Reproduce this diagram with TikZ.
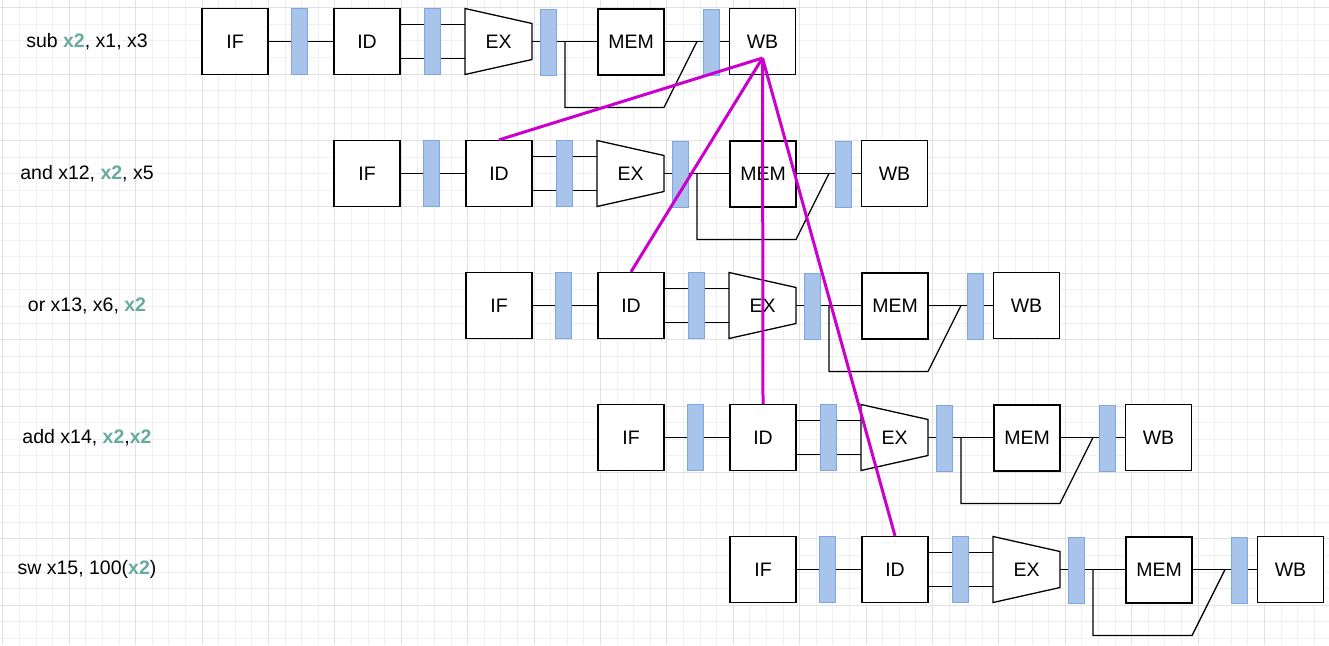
\documentclass[tikz,border=0pt]{standalone}
\usepackage{fontspec}
\setmainfont{Liberation Sans}
\definecolor{latchfill}{HTML}{A9C4EB}
\definecolor{latchline}{HTML}{7EA6E0}
\definecolor{regteal}{HTML}{67AB9F}
\definecolor{fwdpurple}{HTML}{CC00CC}
\definecolor{gridminor}{HTML}{F0F0F0}
\definecolor{gridmajor}{HTML}{E2E2E2}
\newcommand{\hazreg}{\textcolor{regteal}{\textbf{x2}}}
\tikzset{
  stage/.style={draw, line width=1.3pt, fill=white, minimum width=66, minimum height=66, inner sep=0pt},
  latch/.style={draw=latchline, line width=1pt, fill=latchfill, minimum width=16, minimum height=66, inner sep=0pt},
  wire/.style={line width=1.3pt},
  fwd/.style={fwdpurple, line width=3pt},
}
\begin{document}
\begin{tikzpicture}[x=1pt, y=-1pt, font=\fontsize{19.5}{23}\selectfont]
      \useasboundingbox (0,0) rectangle (1329,645);
      \fill[white] (0,0) rectangle (1329,645);
      % grid
      \foreach \k in {0,...,79}
        \draw[gridminor, line width=1pt] ({2.9+16.6*\k},0) -- ({2.9+16.6*\k},645);
      \foreach \k in {-1,...,38}
        \draw[gridminor, line width=1pt] (0,{7.6+16.6*\k}) -- (1329,{7.6+16.6*\k});
      \foreach \k in {0,...,19}
        \draw[gridmajor, line width=1pt] ({2.9+66.4*\k},0) -- ({2.9+66.4*\k},645);
      \foreach \k in {0,...,9}
        \draw[gridmajor, line width=1pt] (0,{7.6+66.4*\k}) -- (1329,{7.6+66.4*\k});
      % one pipeline per instruction
      \foreach \i/\txt in {0/{sub \hazreg, x1, x3}, 1/{and x12, \hazreg, x5},
          2/{or x13, x6, \hazreg}, 3/{add x14, \hazreg,\hazreg}, 4/{sw x15, 100(\hazreg)}} {
        \node (txt\i) at (87,{41.5+132*\i}) {\txt};
        \begin{scope}[shift={({132*\i},{132*\i})}]
          \node[stage] (if\i) at (235,41.5) {IF};
          \node[latch] (la\i) at (299,41.5) {};
          \node[stage] (id\i) at (367,41.5) {ID};
          \node[latch] (lb\i) at (432.5,41.5) {};
          \filldraw[wire, fill=white] (465,8.5) -- (532,23.5) -- (532,59.5) -- (465,74.5) -- cycle;
          \node[inner sep=0pt, minimum width=67, minimum height=66] (ex\i) at (498.5,41.5) {EX};
          \node[latch] (lc\i) at (548,42.5) {};
          \node[stage] (mem\i) at (631,42) {MEM};
          \node[latch] (ld\i) at (711.5,42) {};
          \node[stage] (wb\i) at (762.5,41.5) {WB};
          \coordinate (tap\i) at (565,41.5);
          \coordinate (join\i) at (697,41.5);
          \draw[wire] (if\i.east) -- (la\i.west);
          \draw[wire] (la\i.east) -- (id\i.west);
          \draw[wire] ([yshift=16.7pt]id\i.east) -- ([yshift=16.7pt]lb\i.west);
          \draw[wire] ([yshift=-16.7pt]id\i.east) -- ([yshift=-16.7pt]lb\i.west);
          \draw[wire] ([yshift=16.7pt]lb\i.east) -- ([yshift=16.7pt]ex\i.west);
          \draw[wire] ([yshift=-16.7pt]lb\i.east) -- ([yshift=-16.7pt]ex\i.west);
          \draw[wire] (ex\i.east) -- ([yshift=1pt]lc\i.west);
          \draw[wire] ([yshift=1pt]lc\i.east) -- ([yshift=0.5pt]mem\i.west);
          \draw[wire] (tap\i) -- ++(0,66) -- ++(99,0) -- (join\i);
          \draw[wire] ([yshift=0.5pt]mem\i.east) -- ([yshift=0.5pt]ld\i.west);
          \draw[wire] ([yshift=0.5pt]ld\i.east) -- (wb\i.west);
        \end{scope}
      }
      % forwarding from WB of the first instruction
      \coordinate (src) at ([yshift=-16.5pt]wb0.center);
      \foreach \j in {1,...,4}
        \draw[fwd] (src) -- (id\j.north);
    \end{tikzpicture}
\end{document}
